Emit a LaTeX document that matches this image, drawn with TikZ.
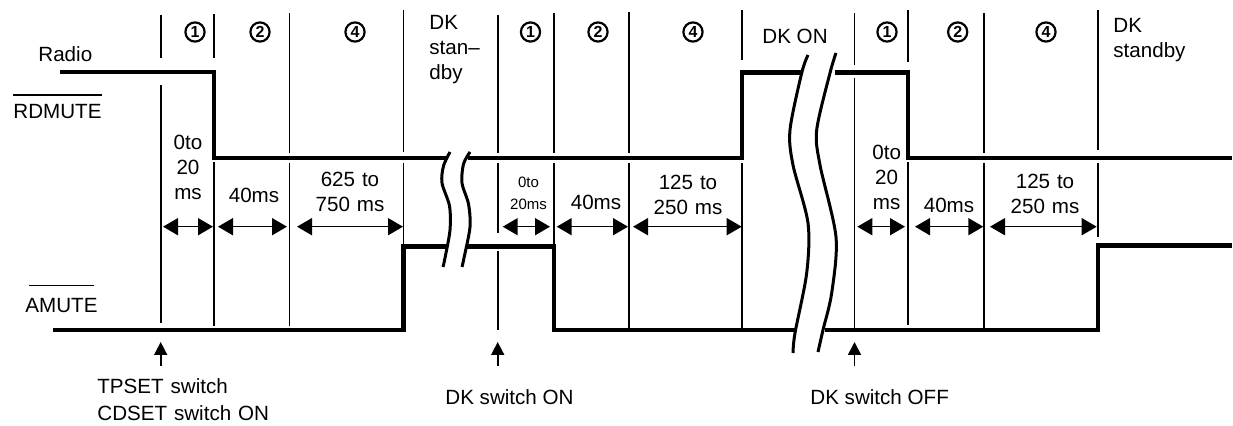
\documentclass[tikz,border=0pt]{standalone}
\usepackage{fontspec}
\setmainfont{Liberation Sans}
\usetikzlibrary{arrows.meta}

\begin{document}
\begin{tikzpicture}[x=0.5pt,y=-0.5pt,
  sig/.style={line width=2.2pt},
  tick/.style={line width=0.8pt},
  brk/.style={line width=1.5pt},
  dur/.style={line width=0.8pt,{Triangle[length=7.5pt,width=8.5pt]}-{Triangle[length=7.5pt,width=8.5pt]}},
  evt/.style={line width=0.8pt,-{Triangle[length=6.5pt,width=6.5pt]}},
  lbl/.style={inner sep=0pt,font=\fontsize{10.3}{12.5}\selectfont},
  mini/.style={inner sep=0pt,font=\fontsize{7.5}{11}\selectfont},
  phase/.style={circle,draw,line width=1.1pt,minimum size=9.6pt,inner sep=0pt,font=\fontsize{8}{8}\selectfont\bfseries},
  col/.style={anchor=base,text width=60pt,align=center}]
  \useasboundingbox (0,0) rectangle (1233,426);
  % signal names
  \node[lbl,anchor=base west] (radio) at (38,61.5) {Radio};
  \node[lbl,anchor=base west] (rdmute) at (13,119) {RDMUTE};
  \node[lbl,anchor=base west] (amute) at (25,312.7) {AMUTE};
  \draw[line width=0.7pt] (rdmute.west |- 0,95) -- (rdmute.east |- 0,95);
  \draw[line width=0.7pt] ([xshift=2pt]amute.west |- 0,285.7) -- ([xshift=-2pt]amute.east |- 0,285.7);
  % phase numbers
  \node[phase] (ph1a) at (195,32) {1};
  \node[phase] (ph2a) at (260,32) {2};
  \node[phase] (ph4a) at (355,32) {4};
  \node[phase] (ph1b) at (530.5,32) {1};
  \node[phase] (ph2b) at (598,32) {2};
  \node[phase] (ph4b) at (693,32) {4};
  \node[phase] (ph1c) at (887,32) {1};
  \node[phase] (ph2c) at (957.7,32) {2};
  \node[phase] (ph4c) at (1046,32) {4};
  \node[lbl,anchor=base west,text width=40pt,align=left] (stby1) at (429,30) {DK\\stan–\\dby};
  \node[lbl,anchor=base west] (dkon) at (762,44) {DK ON};
  \node[lbl,anchor=base west,text width=50pt,align=left] (stby2) at (1113,33) {DK\\standby};
  % vertical markers
  \draw[tick] (160.7,15) -- (160.7,58) (160.7,85) -- (160.7,323);
  \draw[tick] (213.7,14) -- (213.7,58) (213.7,162) -- (213.7,326);
  \draw[tick] (289.3,13) -- (289.3,153) (289.3,163) -- (289.3,326);
  \draw[tick] (403.3,10) -- (403.3,152) (403.3,163) -- (403.3,247);
  \draw[tick] (497.7,15) -- (497.7,153) (497.7,163) -- (497.7,233) (497.7,251) -- (497.7,330);
  \draw[tick] (554,13) -- (554,153) (554,163) -- (554,247);
  \draw[tick] (629,12) -- (629,153) (629,163) -- (629,330);
  \draw[tick] (741.7,10) -- (741.7,60) (741.7,163) -- (741.7,330);
  \draw[tick] (854.5,13) -- (854.5,65) (854.5,78) -- (854.5,328);
  \draw[tick] (907.7,10) -- (907.7,62) (907.7,162) -- (907.7,325);
  \draw[tick] (984,13) -- (984,153) (984,163) -- (984,330);
  \draw[tick] (1098,10) -- (1098,150) (1098,163) -- (1098,237);
  % signals
  \draw[sig] (60,72.3) -- (213.7,72.3) -- (213.7,158.3) -- (448,158.3);
  \draw[sig] (468,158.3) -- (741.7,158.3) -- (741.7,72.7) -- (801.7,72.7);
  \draw[sig] (835,72.7) -- (907.7,72.7) -- (907.7,158.3) -- (1232,158.3);
  \draw[sig] (53,330) -- (403.3,330) -- (403.3,246.5) -- (447,246.5);
  \draw[sig] (467,246.5) -- (554,246.5) -- (554,330) -- (795,330);
  \draw[sig] (825,330) -- (1098,330) -- (1098,245.5) -- (1232,245.5);
  % breaks
  \draw[brk] plot[smooth] coordinates {(450,152) (443.5,166) (442,183) (449.5,206) (450,230) (445,258) (443,267)};
  \draw[brk] plot[smooth] coordinates {(470,152) (463.5,164) (462,183) (468.5,204) (470,227) (464,258) (462,267)};
  \draw[brk] plot[smooth] coordinates {(808,55) (801.7,73) (790,130) (793,165) (808,223) (806.7,273) (795,333) (793,353)};
  \draw[brk] plot[smooth] coordinates {(836,53) (830,73) (816.7,130) (820,165) (836,237) (831.7,293) (823,330) (818,352)};
  % durations
  \node[lbl,col] (d1a) at (188,150) {0to\\20\\ms};
  \node[lbl,col] (d2a) at (254,203) {40ms};
  \node[lbl,col] (d4a) at (350,187) {625 to\\750 ms};
  \node[mini,col] (d1b) at (528.5,188) {0to\\20ms};
  \node[lbl,col] (d2b) at (596,210) {40ms};
  \node[lbl,col] (d4b) at (688,190) {125 to\\250 ms};
  \node[lbl,col] (d1c) at (886.7,160) {0to\\20\\ms};
  \node[lbl,col] (d2c) at (949,213) {40ms};
  \node[lbl,col] (d4c) at (1045,189) {125 to\\250 ms};
  \draw[dur] (163,226.7) -- (213,226.7);
  \draw[dur] (218,226.7) -- (287,226.7);
  \draw[dur] (297,226.7) -- (403,226.7);
  \draw[dur] (502.7,226.7) -- (550,226.7);
  \draw[dur] (556.7,226.7) -- (628,226.7);
  \draw[dur] (633,226.7) -- (741.7,226.7);
  \draw[dur] (857.3,226.7) -- (905,226.7);
  \draw[dur] (915,226.7) -- (983.3,226.7);
  \draw[dur] (990,226.7) -- (1096.7,226.7);
  % events
  \draw[evt] (160.7,366) -- (160.7,342);
  \draw[evt] (497.7,366) -- (497.7,342);
  \draw[evt] (854.5,366) -- (854.5,342);
  \node[lbl,anchor=base west,text width=110pt,align=left,font=\fontsize{10.3}{13.5}\selectfont] (ev1) at (97,394) {TPSET switch\\CDSET switch ON};
  \node[lbl,anchor=base west] (ev2) at (445,405) {DK switch ON};
  \node[lbl,anchor=base west] (ev3) at (810,405) {DK switch OFF};
\end{tikzpicture}
\end{document}
